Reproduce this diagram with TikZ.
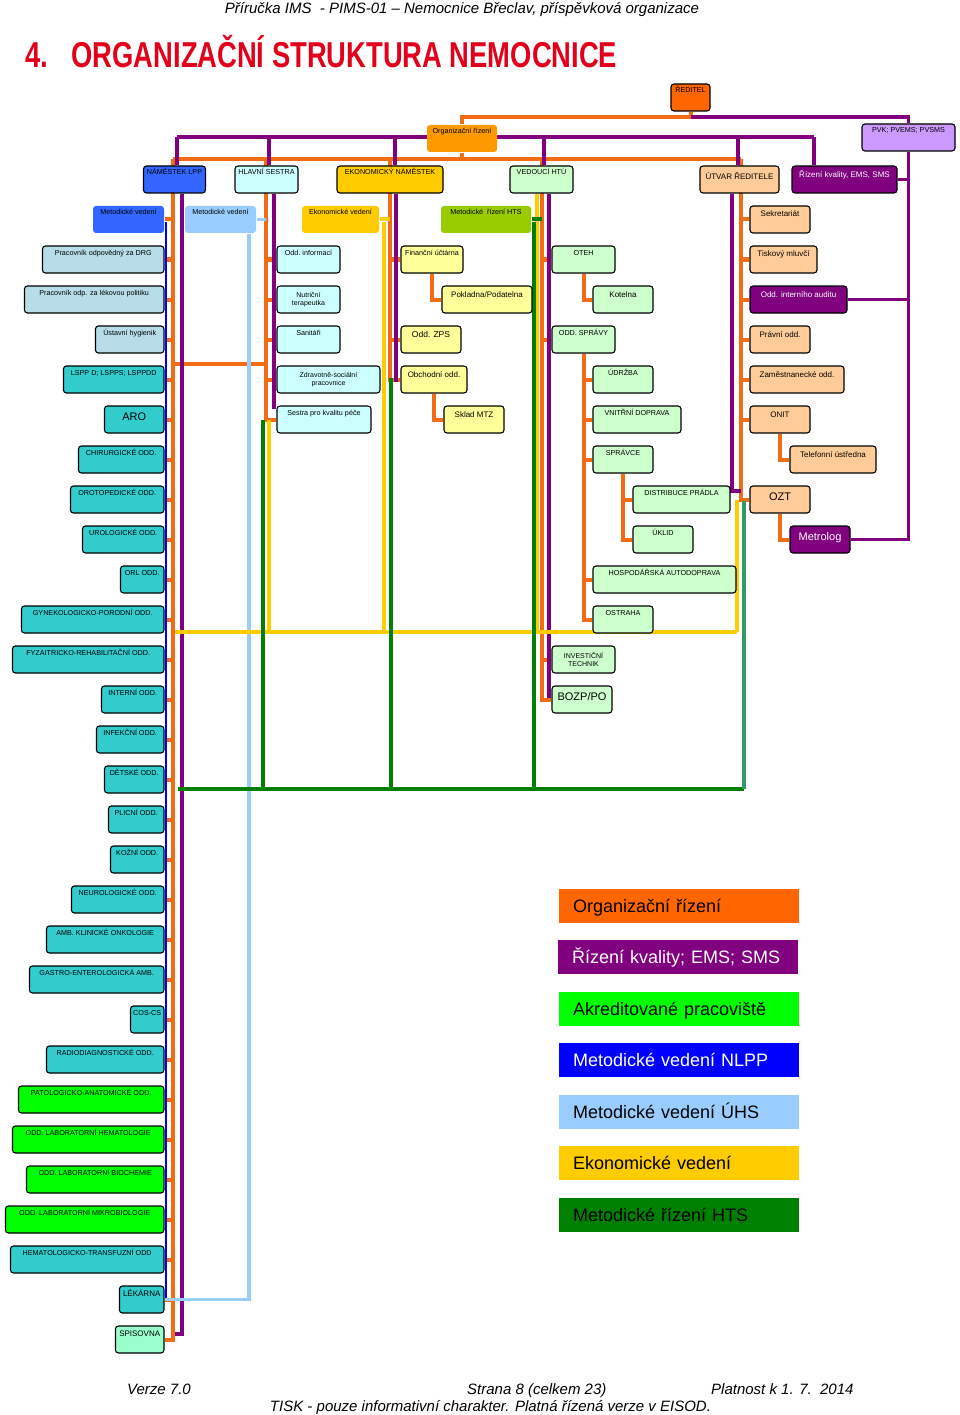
\documentclass[tikz,border=0pt]{standalone}
\usepackage{fontspec}
\setmainfont{Liberation Sans}
\usepackage{graphicx}

\definecolor{cOrg}{RGB}{242,108,20}
\definecolor{cOrgBox}{RGB}{255,153,0}
\definecolor{cRed}{RGB}{255,102,0}
\definecolor{cKval}{RGB}{128,0,128}
\definecolor{cPvk}{RGB}{204,153,255}
\definecolor{cLpp}{RGB}{51,102,255}
\definecolor{cNlpp}{RGB}{0,0,255}
\definecolor{cUhs}{RGB}{153,204,255}
\definecolor{cEko}{RGB}{255,204,0}
\definecolor{cEkoLt}{RGB}{255,255,153}
\definecolor{cHts}{RGB}{0,128,0}
\definecolor{cHtsBox}{RGB}{153,204,0}
\definecolor{cTeal}{RGB}{51,153,102}
\definecolor{cSestra}{RGB}{204,255,255}
\definecolor{cHtu}{RGB}{204,255,204}
\definecolor{cUtvar}{RGB}{255,204,153}
\definecolor{cGrey}{RGB}{183,221,232}
\definecolor{cTurq}{RGB}{51,204,204}
\definecolor{cAkred}{RGB}{0,255,0}
\definecolor{cMint}{RGB}{153,255,204}
\definecolor{cTitle}{RGB}{226,0,26}

\pgfdeclarelayer{bg}
\pgfsetlayers{bg,main}

\begin{document}
\begin{tikzpicture}[x=1pt, y=-1pt,
  unit/.style={draw=black, line width=1.1pt, rounded corners=3pt, inner sep=0pt,
    minimum height=27pt, text height=9pt, text depth=18pt, text=black,
    font=\fontsize{7.2}{8}\selectfont},
  mid/.style={font=\fontsize{8}{9}\selectfont, text height=11pt, text depth=16pt},
  big/.style={font=\fontsize{11}{12}\selectfont, text height=14pt, text depth=13pt},
  two/.style={text height={}, text depth={}, align=center, font=\fontsize{7}{8.5}\selectfont},
  flat/.style={draw=none},
  legend/.style={minimum width=240pt, minimum height=34pt, inner sep=0pt, text width=212pt,
    align=left, text height=14pt, text depth=2pt, font=\fontsize{18}{20}\selectfont},
  foot/.style={font=\itshape\fontsize{15}{17}\selectfont, inner sep=0pt},
  org/.style={draw=cOrg, line width=4pt},
  kval/.style={draw=cKval, line width=3.2pt},
  nlpp/.style={draw=cNlpp, line width=2pt},
  uhs/.style={draw=cUhs, line width=3.5pt},
  eko/.style={draw=cEko, line width=4pt},
  hts/.style={draw=cHts, line width=4pt}]

% header and title
\node[foot, anchor=base] (hlavicka) at (462,14) {Příručka IMS\ \ - PIMS-01 – Nemocnice Břeclav, příspěvková organizace};
\node[anchor=base west, inner sep=0pt, text=cTitle] (nadpis) at (25,68)
  {\scalebox{0.76}[1]{\fontsize{36}{40}\selectfont\bfseries 4.\hspace{31pt}ORGANIZAČNÍ STRUKTURA NEMOCNICE}};

% top management
\node[unit, fill=cRed, minimum width=39] (reditel) at (690.5,97.5) {ŘEDITEL};
\node[unit, flat, fill=cOrgBox, minimum width=70] (orgr) at (462,138.5) {Organizační řízení};
\node[unit, fill=cPvk, minimum width=93] (pvk) at (908.5,137.5) {PVK; PVEMS; PVSMS};

\node[unit, fill=cLpp, minimum width=62] (namlpp) at (174.5,179.5) {NÁMĚSTEK LPP};
\node[unit, fill=cSestra, minimum width=63] (hlsestra) at (266.5,179.5) {HLAVNÍ SESTRA};
\node[unit, fill=cEko, minimum width=106] (eknam) at (390,179.5) {EKONOMICKÝ NÁMĚSTEK};
\node[unit, fill=cHtu, minimum width=63] (vedhtu) at (541.5,179.5) {VEDOUCÍ HTÚ};
\node[unit, mid, fill=cUtvar, minimum width=79, text height=14pt, text depth=13pt] (utvar) at (739.5,179.5) {ÚTVAR ŘEDITELE};
\node[unit, mid, fill=cKval, text=white, minimum width=105, text height=12pt, text depth=15pt] (rizkval) at (844.5,179.5) {Řízení kvality, EMS, SMS};

\node[unit, flat, fill=cLpp, minimum width=71] (metlpp) at (128.5,219.5) {Metodické vedení};
\node[unit, flat, fill=cUhs, minimum width=71] (metuhs) at (220.5,219.5) {Metodické vedení};
\node[unit, flat, fill=cEko, minimum width=77] (ekved) at (340.5,219.5) {Ekonomické vedení};
\node[unit, flat, fill=cHtsBox, minimum width=90] (methts) at (486,219.5) {Metodické\ \ řízení HTS};

% hlavni sestra
\node[unit, fill=cSestra, minimum width=63] (oddinf) at (308.5,259.5) {Odd.\ informací};
\node[unit, two, fill=cSestra, minimum width=63] (nutri) at (308.5,299.5) {Nutriční\\terapeutka};
\node[unit, fill=cSestra, minimum width=63] (sanit) at (308.5,339.5) {Sanitáři};
\node[unit, two, fill=cSestra, minimum width=103] (zdrav) at (328.5,379.5) {Zdravotně-sociální\\pracovnice};
\node[unit, fill=cSestra, minimum width=94] (sestra) at (324,419.5) {Sestra pro kvalitu péče};

% ekonomicky namestek
\node[unit, fill=cEkoLt, minimum width=62] (finuct) at (432,259.5) {Finanční účtárna};
\node[unit, mid, fill=cEkoLt, minimum width=90] (poklad) at (487,299.5) {Pokladna/Podatelna};
\node[unit, mid, fill=cEkoLt, minimum width=60, font=\fontsize{8.5}{10}\selectfont] (oddzps) at (431,339.5) {Odd. ZPS};
\node[unit, mid, fill=cEkoLt, minimum width=66] (obchod) at (434,379.5) {Obchodní odd.};
\node[unit, mid, fill=cEkoLt, minimum width=60] (sklad) at (474,419.5) {Sklad MTZ};

% vedouci HTU
\node[unit, fill=cHtu, minimum width=63] (oteh) at (583.5,259.5) {OTEH};
\node[unit, mid, fill=cHtu, minimum width=60] (kotel) at (623,299.5) {Kotelna};
\node[unit, fill=cHtu, minimum width=63] (spravy) at (583.5,339.5) {ODD. SPRÁVY};
\node[unit, fill=cHtu, minimum width=60] (udrzba) at (623,379.5) {ÚDRŽBA};
\node[unit, fill=cHtu, minimum width=88] (vnitr) at (637,419.5) {VNITŘNÍ DOPRAVA};
\node[unit, fill=cHtu, minimum width=60] (spravce) at (623,459.5) {SPRÁVCE};
\node[unit, fill=cHtu, minimum width=97] (distr) at (681.5,499.5) {DISTRIBUCE PRÁDLA};
\node[unit, fill=cHtu, minimum width=60] (uklid) at (663,539.5) {ÚKLID};
\node[unit, fill=cHtu, minimum width=143] (hosp) at (664.5,579.5) {HOSPODÁŘSKÁ AUTODOPRAVA};
\node[unit, fill=cHtu, minimum width=60] (ostraha) at (623,619.5) {OSTRAHA};
\node[unit, two, fill=cHtu, minimum width=63] (invest) at (583.5,659.5) {INVESTIČNÍ\\TECHNIK};
\node[unit, big, fill=cHtu, minimum width=60] (bozp) at (582,699.5) {BOZP/PO};

% utvar reditele
\node[unit, mid, fill=cUtvar, minimum width=60] (sekret) at (780,219.5) {Sekretariát};
\node[unit, mid, fill=cUtvar, minimum width=67] (mluvci) at (783.5,259.5) {Tiskový mluvčí};
\node[unit, mid, fill=cKval, text=white, minimum width=97] (audit) at (798.5,299.5) {Odd. interního auditu};
\node[unit, mid, fill=cUtvar, minimum width=60] (pravni) at (780,339.5) {Právní odd.};
\node[unit, mid, fill=cUtvar, minimum width=94] (zamest) at (797,379.5) {Zaměstnanecké odd.};
\node[unit, mid, fill=cUtvar, minimum width=60] (onit) at (780,419.5) {ONIT};
\node[unit, mid, fill=cUtvar, minimum width=86] (telef) at (833,459.5) {Telefonní ústředna};
\node[unit, big, fill=cUtvar, minimum width=60] (ozt) at (780,499.5) {OZT};
\node[unit, big, fill=cKval, text=white, minimum width=60] (metrol) at (820,539.5) {Metrolog};

% namestek LPP
\node[unit, anchor=east, fill=cGrey, minimum width=121.5] (drg) at (164.5,259.5) {Pracovník odpovědný za DRG};
\node[unit, anchor=east, fill=cGrey, minimum width=139.5] (lekpol) at (164.5,299.5) {Pracovník odp. za lékovou politiku};
\node[unit, anchor=east, fill=cGrey, minimum width=68.5] (hyg) at (164.5,339.5) {Ústavní hygienik};
\node[unit, anchor=east, fill=cTurq, minimum width=100.5] (lspp) at (164.5,379.5) {LSPP D; LSPPS; LSPPDD};
\node[unit, big, anchor=east, fill=cTurq, minimum width=59.5] (aro) at (164.5,419.5) {ARO};
\node[unit, anchor=east, fill=cTurq, minimum width=85.5] (chir) at (164.5,459.5) {CHIRURGICKÉ ODD.};
\node[unit, anchor=east, fill=cTurq, minimum width=93.5] (orto) at (164.5,499.5) {OROTOPEDICKÉ ODD.};
\node[unit, anchor=east, fill=cTurq, minimum width=81.5] (uro) at (164.5,539.5) {UROLOGICKÉ ODD.};
\node[unit, anchor=east, fill=cTurq, minimum width=43.5] (orl) at (164.5,579.5) {ORL ODD.};
\node[unit, anchor=east, fill=cTurq, minimum width=142.5] (gyn) at (164.5,619.5) {GYNEKOLOGICKO-PORODNÍ ODD.};
\node[unit, anchor=east, fill=cTurq, minimum width=151.5] (fyz) at (164.5,659.5) {FYZAITRICKO-REHABILITAČNÍ ODD.};
\node[unit, anchor=east, fill=cTurq, minimum width=62.5] (inter) at (164.5,699.5) {INTERNÍ ODD.};
\node[unit, anchor=east, fill=cTurq, minimum width=67.5] (infek) at (164.5,739.5) {INFEKČNÍ ODD.};
\node[unit, anchor=east, fill=cTurq, minimum width=59.5] (detske) at (164.5,779.5) {DĚTSKÉ ODD.};
\node[unit, anchor=east, fill=cTurq, minimum width=55.5] (plic) at (164.5,819.5) {PLICNÍ ODD.};
\node[unit, anchor=east, fill=cTurq, minimum width=53.5] (kozni) at (164.5,859.5) {KOŽNÍ ODD.};
\node[unit, anchor=east, fill=cTurq, minimum width=92.5] (neuro) at (164.5,899.5) {NEUROLOGICKÉ ODD.};
\node[unit, anchor=east, fill=cTurq, minimum width=117.5] (onko) at (164.5,939.5) {AMB. KLINICKÉ ONKOLOGIE};
\node[unit, anchor=east, fill=cTurq, minimum width=134.5] (gastro) at (164.5,979.5) {GASTRO-ENTEROLOGICKÁ AMB.};
\node[unit, anchor=east, fill=cTurq, minimum width=33.5] (cos) at (164.5,1019.5) {COS-CS};
\node[unit, anchor=east, fill=cTurq, minimum width=117.5] (radio) at (164.5,1059.5) {RADIODIAGNOSTICKÉ ODD.};
\node[unit, anchor=east, fill=cAkred, minimum width=145.5] (pato) at (164.5,1099.5) {PATOLOGICKO-ANATOMICKÉ ODD.};
\node[unit, anchor=east, fill=cAkred, minimum width=151.5] (hemat) at (164.5,1139.5) {ODD. LABORATORNÍ HEMATOLOGIE};
\node[unit, anchor=east, fill=cAkred, minimum width=137.5] (bioch) at (164.5,1179.5) {ODD. LABORATORNÍ BIOCHEMIE};
\node[unit, anchor=east, fill=cAkred, minimum width=158.5] (mikro) at (164.5,1219.5) {ODD. LABORATORNÍ MIKROBIOLOGIE};
\node[unit, anchor=east, fill=cTurq, minimum width=153.5] (transf) at (164.5,1259.5) {HEMATOLOGICKO-TRANSFUZNÍ ODD};
\node[unit, mid, anchor=east, fill=cTurq, minimum width=44.5, text height=10pt, text depth=17pt] (lekarna) at (164.5,1299.5) {LÉKÁRNA};
\node[unit, mid, anchor=east, fill=cMint, minimum width=48.5, text height=10pt, text depth=17pt] (spis) at (164.5,1339.5) {SPISOVNA};

% legend
\node[legend, fill=cRed] (legorg) at (679,906) {Organizační řízení};
\node[legend, fill=cKval, text=white] (legkval) at (678,957) {Řízení kvality; EMS; SMS};
\node[legend, fill=cAkred] (legakr) at (679,1009) {Akreditované pracoviště};
\node[legend, fill=cNlpp, text=white] (legnlpp) at (679,1060) {Metodické vedení NLPP};
\node[legend, fill=cUhs] (leguhs) at (679,1112) {Metodické vedení ÚHS};
\node[legend, fill=cEko] (legeko) at (679,1163) {Ekonomické vedení};
\node[legend, fill=cHts] (leghts) at (679,1215) {Metodické řízení HTS};

% footer
\node[foot, anchor=base west] (verze) at (127,1394) {Verze 7.0};
\node[foot, anchor=base west] (strana) at (467,1394) {Strana 8 (celkem 23)};
\node[foot, anchor=base west] (platnost) at (711,1394) {Platnost k 1. 7.\ \ 2014};
\node[foot, anchor=base] (tiskpozn) at (490.5,1411) {TISK - pouze informativní charakter. Platná řízená verze v EISOD.};

% bus points
\coordinate (rJ) at (690.5,117);
\coordinate (oL) at (173,159);
\coordinate (oHS) at (266,159);
\coordinate (oEK) at (390,159);
\coordinate (oHTU) at (542,159);
\coordinate (oUT) at (741,159);
\coordinate (oLink) at (173,364);
\coordinate (kL) at (177,137);
\coordinate (kR) at (814,137);
\coordinate (kHS) at ([xshift=2.5pt]hlsestra.north);
\coordinate (kEK) at ([xshift=5pt]eknam.north);
\coordinate (kHTU) at ([xshift=2.5pt]vedhtu.north);
\coordinate (kUT) at ([xshift=-1.5pt]utvar.north);
\coordinate (kLend) at (175,1334);
\coordinate (kHSend) at (274,409);
\coordinate (kEKend) at (396,382);
\coordinate (kUTend) at (741,491);
\coordinate (yL) at (175,632);
\coordinate (yR) at (737,632);
\coordinate (yHS) at (269,420);
\coordinate (gL) at (178,789);
\coordinate (gR) at (744,789);
\coordinate (gHS) at (263,420);
\coordinate (gEK) at (391,378);
\coordinate (tTop) at (744,501);

\begin{pgfonlayer}{bg}
\path[use as bounding box, fill=white] (0,0) rectangle (960,1415);

% organizacni rizeni
\draw[org] (reditel.south) -- (rJ) -| (orgr.north);
\draw[org] (orgr.south) -- (orgr.south |- oL);
\draw[org] (oL) -- (oUT);
\draw[org] (oL) |- (spis.east);
\draw[org] (oHS) |- (sestra.west);
\draw[org] (oEK) |- (obchod.west);
\draw[org] (oHTU) |- (bozp.west);
\draw[org] (oUT) |- (ozt.west);
\draw[org] (oLink) -- (oLink -| oHS);
\draw[org] (metlpp.east) -- (metlpp.east -| oL)
  (drg.east) -- (drg.east -| oL) (lekpol.east) -- (lekpol.east -| oL)
  (hyg.east) -- (hyg.east -| oL) (lspp.east) -- (lspp.east -| oL)
  (aro.east) -- (aro.east -| oL) (chir.east) -- (chir.east -| oL)
  (orto.east) -- (orto.east -| oL) (uro.east) -- (uro.east -| oL)
  (orl.east) -- (orl.east -| oL) (gyn.east) -- (gyn.east -| oL)
  (fyz.east) -- (fyz.east -| oL) (inter.east) -- (inter.east -| oL)
  (infek.east) -- (infek.east -| oL) (detske.east) -- (detske.east -| oL)
  (plic.east) -- (plic.east -| oL) (kozni.east) -- (kozni.east -| oL)
  (neuro.east) -- (neuro.east -| oL) (onko.east) -- (onko.east -| oL)
  (gastro.east) -- (gastro.east -| oL) (cos.east) -- (cos.east -| oL)
  (radio.east) -- (radio.east -| oL) (pato.east) -- (pato.east -| oL)
  (hemat.east) -- (hemat.east -| oL) (bioch.east) -- (bioch.east -| oL)
  (mikro.east) -- (mikro.east -| oL) (transf.east) -- (transf.east -| oL)
  (lekarna.east) -- (lekarna.east -| oL);
\draw[org] (oddinf.west) -- (oddinf.west -| oHS) (nutri.west) -- (nutri.west -| oHS)
  (sanit.west) -- (sanit.west -| oHS) (zdrav.west) -- (zdrav.west -| oHS);
\draw[org] (finuct.west) -- (finuct.west -| oEK) (oddzps.west) -- (oddzps.west -| oEK);
\draw[org] (oteh.west) -- (oteh.west -| oHTU) (spravy.west) -- (spravy.west -| oHTU)
  (invest.west) -- (invest.west -| oHTU);
\draw[org] (sekret.west) -- (sekret.west -| oUT) (mluvci.west) -- (mluvci.west -| oUT)
  (audit.west) -- (audit.west -| oUT) (pravni.west) -- (pravni.west -| oUT)
  (zamest.west) -- (zamest.west -| oUT) (onit.west) -- (onit.west -| oUT);
\draw[org] (finuct.south) |- (poklad.west);
\draw[org] (obchod.south) |- (sklad.west);
\draw[org] (oteh.south) |- (kotel.west);
\draw[org] (spravy.south) |- (ostraha.west);
\draw[org] (udrzba.west) -- (udrzba.west -| spravy.south) (vnitr.west) -- (vnitr.west -| spravy.south)
  (spravce.west) -- (spravce.west -| spravy.south) (hosp.west) -- (hosp.west -| spravy.south);
\draw[org] (spravce.south) |- (uklid.west);
\draw[org] (distr.west) -- (distr.west -| spravce.south);
\draw[org] (onit.south) |- (telef.west);
\draw[org] (ozt.south) |- (metrol.west);

% rizeni kvality
\draw[kval] (rJ) -| (pvk.north);
\draw[kval] (kL) -- (kR);
\draw[kval] (kL) -- (kL |- namlpp.north);
\draw[kval] (kR) -- (kR |- rizkval.north);
\draw[kval] (kHS) -- (kHS |- kL);
\draw[kval] (kEK) -- (kEK |- kL);
\draw[kval] (kHTU) -- (kHTU |- kL);
\draw[kval] (kUT) -- (kUT |- kL);
\draw[kval] ([xshift=7.5pt]namlpp.south) |- (kLend);
\draw[kval] ([xshift=7.5pt]hlsestra.south) -- (kHSend);
\draw[kval] ([xshift=6pt]eknam.south) -- (kEKend);
\draw[kval] ([xshift=7.5pt]vedhtu.south) |- (bozp.west);
\draw[kval] ([xshift=-7.5pt]utvar.south) |- (kUTend);
\draw[kval] (pvk.south) |- (metrol.east);
\draw[kval] (audit.east) -- (audit.east -| pvk.south) (rizkval.east) -- (rizkval.east -| pvk.south);
\draw[org] (oHTU |- bozp.west) -- (bozp.west);

% metodicke vedeni NLPP a UHS
\draw[nlpp] ([xshift=1.5pt,yshift=-3pt]metlpp.east) -- ([xshift=1.5pt]metlpp.east |- lekarna.east);
\draw[uhs] (metuhs.east) -- (metuhs.east -| oHS);
\draw[uhs] ([xshift=28.5pt]metuhs.south) |- (lekarna.east);

% ekonomicke vedeni
\draw[eko] (ekved.east) -- (ekved.east -| oEK);
\draw[eko] ([xshift=4pt,yshift=-3pt]ekved.east) -- ([xshift=4pt]ekved.east |- yL);
\draw[eko] (yL) -- (yR);
\draw[eko] (yHS) -- (yHS |- yL);
\draw[eko] ([xshift=-4.5pt]vedhtu.south) -- ([xshift=-4.5pt]vedhtu.south |- yL);
\draw[eko] (yR) -- (yR |- ozt.west);

% metodicke rizeni HTS
\draw[hts] (methts.east) -- (methts.east -| oHTU);
\draw[hts] ([xshift=2pt,yshift=-3pt]methts.east) -- ([xshift=2pt]methts.east |- gL);
\draw[hts] (gL) -- (gR);
\draw[hts] (gHS) -- (gHS |- gL);
\draw[hts] (gEK) -- (gEK |- gL);
\draw[draw=cTeal, line width=3.5pt] (tTop) -- (gR);
\end{pgfonlayer}
\end{tikzpicture}
\end{document}
